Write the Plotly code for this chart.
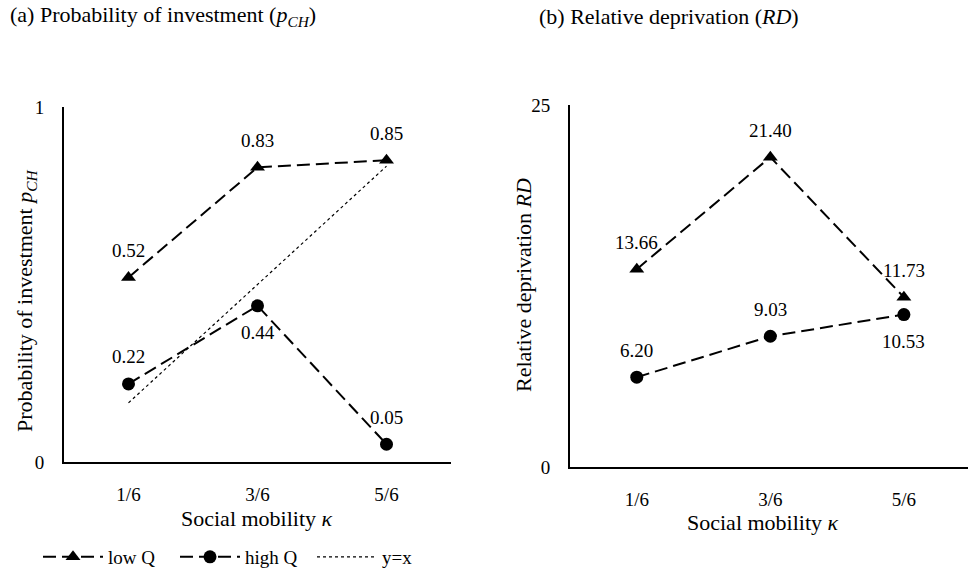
import plotly.graph_objects as go

# ---- data ----
kappa_labels = ["1/6", "3/6", "5/6"]
kappa_values = [1/6, 3/6, 5/6]
p_low = [0.52, 0.83, 0.85]
p_high = [0.22, 0.44, 0.05]
rd_low = [13.66, 21.40, 11.73]
rd_high = [6.20, 9.03, 10.53]
p_low_text = ["0.52", "0.83", "0.85"]
p_high_text = ["0.22", "0.44", "0.05"]
rd_low_text = ["13.66", "21.40", "11.73"]
rd_high_text = ["6.20", "9.03", "10.53"]

# label side (style): 1 = above, -1 = below
p_low_side = [1, 1, 1]
p_high_side = [1, -1, 1]
rd_low_side = [1, 1, 1]
rd_high_side = [1, 1, -1]

FONT = "Liberation Serif"
FS = 19
FS_T = 22
xpos = list(range(len(kappa_labels)))

dash_style = dict(color="black", width=2, dash="13px,6px")

fig = go.Figure()
fig.add_trace(go.Scatter(x=xpos, y=p_low, mode="lines+markers", name="low Q",
                         line=dash_style, marker=dict(symbol="triangle-up", size=13, color="black"),
                         xaxis="x", yaxis="y", legendrank=1))
fig.add_trace(go.Scatter(x=xpos, y=p_high, mode="lines+markers", name="high Q",
                         line=dash_style, marker=dict(symbol="circle", size=13, color="black"),
                         xaxis="x", yaxis="y", legendrank=2))
fig.add_trace(go.Scatter(x=[xpos[0], xpos[-1]], y=[kappa_values[0], kappa_values[-1]], mode="lines", name="y=x",
                         line=dict(color="black", width=1.2, dash="dot"),
                         xaxis="x", yaxis="y", legendrank=3))
fig.add_trace(go.Scatter(x=xpos, y=rd_low, mode="lines+markers", name="low Q",
                         line=dash_style, marker=dict(symbol="triangle-up", size=13, color="black"),
                         xaxis="x2", yaxis="y2", showlegend=False))
fig.add_trace(go.Scatter(x=xpos, y=rd_high, mode="lines+markers", name="high Q",
                         line=dash_style, marker=dict(symbol="circle", size=13, color="black"),
                         xaxis="x2", yaxis="y2", showlegend=False))

annotations = []
def add_labels(vals, texts, sides, xr, yr):
    for xi, v, t, s in zip(xpos, vals, texts, sides):
        annotations.append(dict(x=xi, y=v, text=t, xref=xr, yref=yr, showarrow=False,
                                xanchor="center", yanchor="middle",
                                yshift=27 * s, font=dict(family=FONT, size=FS, color="black")))

add_labels(p_low, p_low_text, p_low_side, "x", "y")
add_labels(p_high, p_high_text, p_high_side, "x", "y")
add_labels(rd_low, rd_low_text, rd_low_side, "x2", "y2")
add_labels(rd_high, rd_high_text, rd_high_side, "x2", "y2")

W, H = 968, 583
def px(v): return v / W
def py(v): return 1 - v / H

# titles and axis titles
annotations += [
    dict(x=px(8), y=py(16), xref="paper", yref="paper", xanchor="left", yanchor="middle", showarrow=False,
         text="(a) Probability of investment (<i>p</i><sub><i>CH</i></sub>)",
         font=dict(family=FONT, size=FS_T, color="black")),
    dict(x=px(537), y=py(16), xref="paper", yref="paper", xanchor="left", yanchor="middle", showarrow=False,
         text="(b) Relative deprivation (<i>RD</i>)",
         font=dict(family=FONT, size=FS_T, color="black")),
    dict(x=px(257), y=py(518), xref="paper", yref="paper", xanchor="center", yanchor="middle", showarrow=False,
         text="Social mobility <i>κ</i>", font=dict(family=FONT, size=FS_T, color="black")),
    dict(x=px(763), y=py(522), xref="paper", yref="paper", xanchor="center", yanchor="middle", showarrow=False,
         text="Social mobility <i>κ</i>", font=dict(family=FONT, size=FS_T, color="black")),
    dict(x=px(26), y=py(301), xref="paper", yref="paper", xanchor="center", yanchor="middle",
         showarrow=False, textangle=-90,
         text="Probability of investment <i>p</i><sub><i>CH</i></sub>", font=dict(family=FONT, size=FS_T, color="black")),
    dict(x=px(523), y=py(285), xref="paper", yref="paper", xanchor="center", yanchor="middle",
         showarrow=False, textangle=-90,
         text="Relative deprivation <i>RD</i>", font=dict(family=FONT, size=FS_T, color="black")),
]

axis_common = dict(showline=True, linecolor="black", linewidth=2, showgrid=False, zeroline=False,
                   ticks="", automargin=False, tickfont=dict(family=FONT, size=FS, color="black"))

fig.update_layout(
    width=W, height=H, margin=dict(l=0, r=0, t=0, b=0, autoexpand=False),
    paper_bgcolor="white", plot_bgcolor="white",
    font=dict(family=FONT, size=FS, color="black"),
    xaxis=dict(domain=[px(64), px(451)], range=[-0.5, 2.5], tickvals=xpos, ticktext=kappa_labels,
               anchor="y", ticklabelstandoff=14, **axis_common),
    yaxis=dict(domain=[py(462), py(107)], range=[0, 1], tickvals=[0, 1], ticktext=["0", "1"],
               anchor="x", ticklabelstandoff=14, **axis_common),
    xaxis2=dict(domain=[px(570), 1.0], range=[-0.5, 2.48], tickvals=xpos, ticktext=kappa_labels,
                anchor="y2", ticklabelstandoff=14, **axis_common),
    yaxis2=dict(domain=[py(467), py(105)], range=[0, 25], tickvals=[0, 25], ticktext=["0", "25"],
                anchor="x2", ticklabelstandoff=14, **axis_common),
    legend=dict(orientation="h", x=px(38), y=py(557), xanchor="left", yanchor="middle",
                itemwidth=60, entrywidth=62, entrywidthmode="pixels",
                font=dict(family=FONT, size=FS, color="black"), bgcolor="rgba(0,0,0,0)"),
    annotations=annotations,
)

fig.write_html("out.html", config={"displayModeBar": False},
               post_script="document.body.style.margin='0';")
